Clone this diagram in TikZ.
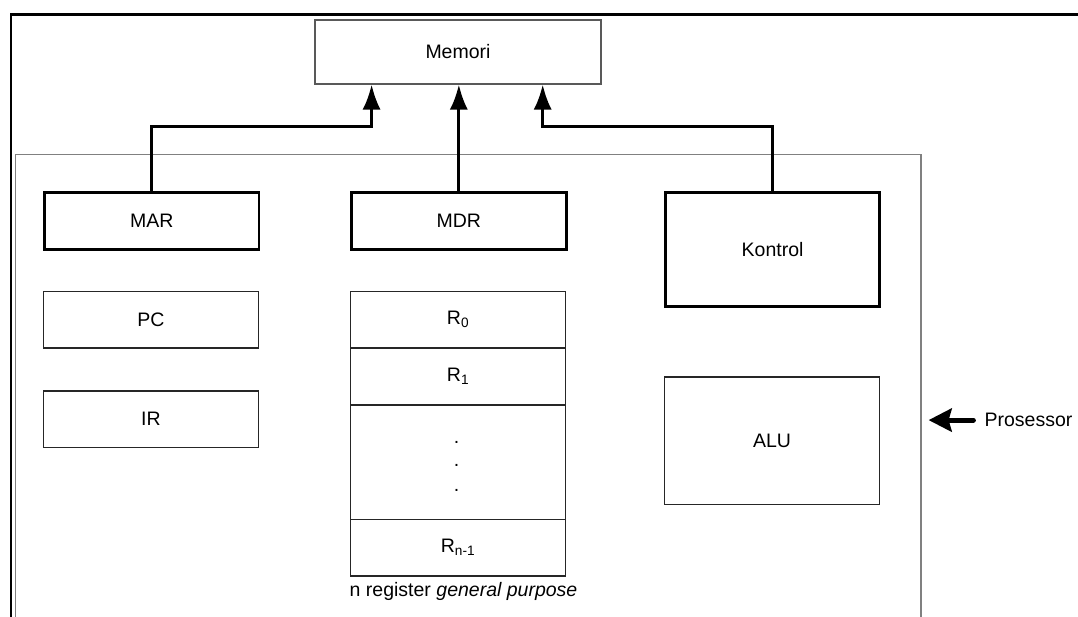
\documentclass[tikz,border=0pt]{standalone}
\usepackage{fontspec}
\setmainfont{Liberation Sans}
\usetikzlibrary{arrows.meta}
\begin{document}
\begin{tikzpicture}[x=1pt,y=-1pt,
  every node/.style={font=\fontsize{19.5}{23}\selectfont},
  thinbox/.style={draw=black!85, line width=1.2pt, rectangle, inner sep=0pt, anchor=north west},
  thickbox/.style={draw=black, line width=2.8pt, rectangle, inner sep=0pt, anchor=north west},
  conn/.style={draw=black, line width=3pt, -{Latex[length=25pt,width=18pt]}},
  procarrow/.style={draw=black, line width=5pt, line cap=round, -{Stealth[length=23pt,width=23pt,inset=3pt]}},
  lbl/.style={inner sep=0pt}
]
\useasboundingbox (0,0) rectangle (1078,616);
\clip (0,0) rectangle (1078,616);
\fill[white] (0,0) rectangle (1078,616);

% outer frame (cut by the picture edge)
\draw[black, line width=2.6pt] (1100,14.7) -- (11,14.7) -- (11,640);
% processor box
\draw[black!50, line width=1.5pt] (15.5,640) -- (15.5,154.7) -- (921,154.7) -- (921,640);

% memory
\node[thinbox, draw=black!65, minimum width=286pt, minimum height=64pt] (mem) at (314.4,19.3) {Memori};

% registers
\node[thickbox, minimum width=214.6pt, minimum height=57pt] (mar) at (43,190.7) {MAR};
\node[thickbox, minimum width=214.5pt, minimum height=57pt] (mdr) at (350.2,190.7) {MDR};
\node[thickbox, minimum width=214pt, minimum height=114pt] (kon) at (664.2,190.7) {Kontrol};

\node[thinbox, minimum width=214.6pt, minimum height=56.6pt] (pc) at (43,290.7) {PC};
\node[thinbox, minimum width=214.6pt, minimum height=56.7pt] (ir) at (43,390.3) {IR};

\node[thinbox, minimum width=214.5pt, minimum height=56.6pt] (r0) at (350.2,290.7) {R\textsubscript{0}};
\node[thinbox, minimum width=214.5pt, minimum height=57pt] (r1) at (350.2,347.3) {R\textsubscript{1}};
\node[thinbox, minimum width=214.5pt, minimum height=114.4pt] (rd) at (350.2,404.3) {};
\node[thinbox, minimum width=214.5pt, minimum height=56.6pt] (rn) at (350.2,518.7) {R\textsubscript{n-1}};

\node[lbl, anchor=base] (d1) at (456.5,443.5) {.};
\node[lbl, anchor=base] (d2) at (456.5,466.8) {.};
\node[lbl, anchor=base] (d3) at (456.5,491.8) {.};

\node[lbl, anchor=base west] (cap) at (349.5,596.7) {n register \textit{general purpose}};

\node[thinbox, minimum width=214.5pt, minimum height=127.7pt] (alu) at (664.2,376.3) {ALU};

% connectors to memory
\coordinate (j1) at (371.6,126);
\coordinate (j3) at (542.7,126);
\draw[conn] (mar.north) |- (j1) -- (j1 |- mem.south);
\draw[conn] (mdr.north) -- (mdr.north |- mem.south);
\draw[conn] (kon.north) |- (j3) -- (j3 |- mem.south);

% processor label
\node[lbl, anchor=base west] (proc) at (984.4,426.7) {Prosessor};
\coordinate (pstart) at ([xshift=-11pt]proc.west);
\coordinate (ptip) at ([xshift=-55.8pt]proc.west);
\draw[procarrow] (pstart) -- (ptip);
\end{tikzpicture}
\end{document}
